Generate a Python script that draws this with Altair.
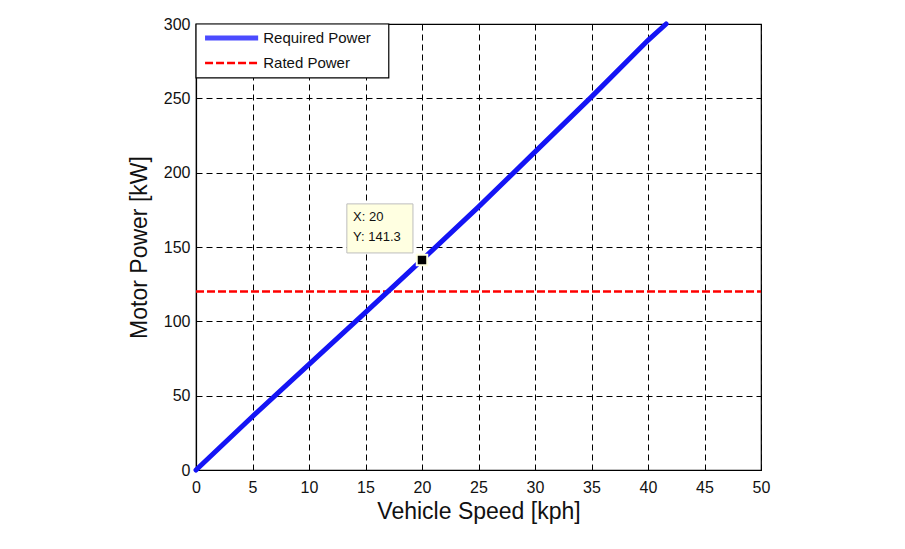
import altair as alt
import pandas as pd

# Data
speed = [0, 5, 10, 15, 20, 25, 30, 35, 40, 41.6]
power = [0, 36, 71, 106, 141.3, 177, 214, 251, 289, 300]
rated_x = [0, 50]
rated_y = [120, 120]
x_ticks = list(range(0, 51, 5))
y_ticks = list(range(0, 301, 50))
tip_x, tip_y = 20, 141.3

FONT = "Arial, Liberation Sans"

req = pd.DataFrame({"x": speed, "y": power})
rated = pd.DataFrame({"x": rated_x, "y": rated_y})
tip = pd.DataFrame({"x": [tip_x], "y": [tip_y]})

xs = alt.Scale(domain=[0, 50], nice=False, zero=False)
ys = alt.Scale(domain=[0, 300], nice=False, zero=False)

xax = alt.Axis(values=x_ticks, title="Vehicle Speed [kph]", format="d")
yax = alt.Axis(values=y_ticks, title="Motor Power [kW]", format="d")

base_grid = alt.Chart(req).mark_line(opacity=0).encode(
    x=alt.X("x:Q", scale=xs, axis=xax),
    y=alt.Y("y:Q", scale=ys, axis=yax),
)

req_line = alt.Chart(req).mark_line(color="#1414F5", strokeWidth=5, strokeCap="round").encode(
    x=alt.X("x:Q", scale=xs), y=alt.Y("y:Q", scale=ys)
)

rated_line = alt.Chart(rated).mark_line(color="#FF0000", strokeWidth=2.5, strokeDash=[8, 3]).encode(
    x=alt.X("x:Q", scale=xs), y=alt.Y("y:Q", scale=ys)
)

marker = alt.Chart(tip).mark_square(size=110, color="black", fill="black", stroke="#FFFFE0",
                                    strokeWidth=2, opacity=1).encode(
    x=alt.X("x:Q", scale=xs), y=alt.Y("y:Q", scale=ys)
)

# Data tip box
box = alt.Chart(pd.DataFrame({"x": [13.35], "x2": [19.2], "y": [179], "y2": [146]})).mark_rect(
    fill="#FFFFE1", stroke="#BDBDBD", strokeWidth=1
).encode(x=alt.X("x:Q", scale=xs), x2="x2", y=alt.Y("y:Q", scale=ys), y2="y2")

tip_text = alt.Chart(pd.DataFrame({"x": [13.9, 13.9], "y": [170.5, 157], "t": ["X: 20", "Y: 141.3"]})).mark_text(
    align="left", baseline="middle", font=FONT, fontSize=13, color="#111111"
).encode(x=alt.X("x:Q", scale=xs), y=alt.Y("y:Q", scale=ys), text="t:N")

# Legend (drawn manually)
leg_box = alt.Chart(pd.DataFrame({"x": [0], "x2": [17.06], "y": [300], "y2": [263.7]})).mark_rect(
    fill="white", stroke="black", strokeWidth=1.2
).encode(x=alt.X("x:Q", scale=xs), x2="x2", y=alt.Y("y:Q", scale=ys), y2="y2")

leg_req = alt.Chart(pd.DataFrame({"x": [0.8], "x2": [5.5], "y": [290.6]})).mark_rule(
    color="#4B4BFF", strokeWidth=5
).encode(x=alt.X("x:Q", scale=xs), x2="x2", y=alt.Y("y:Q", scale=ys))

leg_rated = alt.Chart(pd.DataFrame({"x": [0.8], "x2": [5.5], "y": [273.8]})).mark_rule(
    color="#FF0000", strokeWidth=2.5, strokeDash=[8, 3]
).encode(x=alt.X("x:Q", scale=xs), x2="x2", y=alt.Y("y:Q", scale=ys))

leg_text = alt.Chart(pd.DataFrame({"x": [5.95, 5.95], "y": [290.6, 273.8],
                                   "t": ["Required Power", "Rated Power"]})).mark_text(
    align="left", baseline="middle", font=FONT, fontSize=15, color="#111111"
).encode(x=alt.X("x:Q", scale=xs), y=alt.Y("y:Q", scale=ys), text="t:N")

chart = alt.layer(
    base_grid, rated_line, req_line, box, tip_text, marker, leg_box, leg_req, leg_rated, leg_text
).properties(
    width=565, height=446,
    padding={"left": 196, "top": 24, "right": 144, "bottom": 79},
    autosize=alt.AutoSizeParams(type="none"),
    background="white",
).configure_view(
    stroke="black", strokeWidth=1.2
).configure_axis(
    grid=True, gridColor="black", gridDash=[6, 4], gridWidth=1, gridOpacity=1,
    domainColor="black", domainWidth=1.2, tickSize=0, labelFlush=False, labelOverlap=False,
    labelFont=FONT, labelFontSize=16, labelColor="#111111",
    titleFont=FONT, titleFontSize=23, titleFontWeight="normal", titleColor="#111111",
).configure_axisX(
    labelPadding=9, titlePadding=5,
).configure_axisY(
    labelPadding=6, titlePadding=12,
)

chart.save("out.html", embed_options={"renderer": "svg", "actions": False})
